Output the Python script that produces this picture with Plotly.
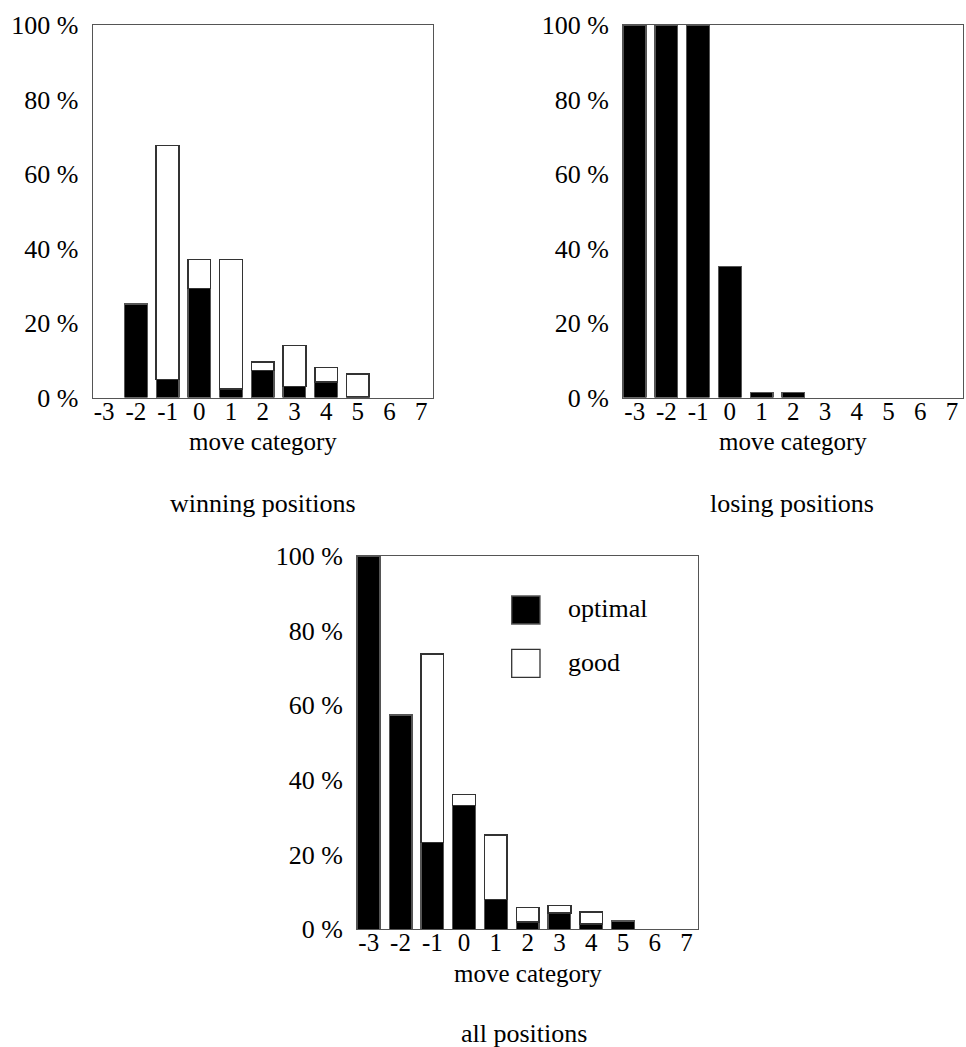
import plotly.graph_objects as go

# ---------------- data ----------------
categories = [-3, -2, -1, 0, 1, 2, 3, 4, 5, 6, 7]
tick_labels = ["-3", "-2", "-1", "0", "1", "2", "3", "4", "5", "6", "7"]
series_names = ["optimal", "good"]
panel_titles = ["winning positions", "losing positions", "all positions"]
x_title = "move category"

winning_optimal = [0, 25.1, 4.8, 29.2, 2.3, 7.3, 3.0, 4.2, 0.2, 0, 0]
winning_good = [0, 0, 62.8, 7.9, 34.8, 2.2, 11.0, 3.8, 6.1, 0, 0]

losing_optimal = [100, 100, 100, 35.2, 1.3, 1.3, 0, 0, 0, 0, 0]
losing_good = [0, 0, 0, 0, 0, 0, 0, 0, 0, 0, 0]

all_optimal = [100, 57.4, 23.3, 33.2, 8.0, 2.0, 4.4, 1.4, 2.2, 0, 0]
all_good = [0, 0, 50.4, 2.9, 17.2, 3.8, 2.0, 3.2, 0, 0, 0]

y_ticks = [0, 20, 40, 60, 80, 100]

# ---------------- style ----------------
FONT = "Liberation Serif"
FS = 26
TFS = 25
FRAME = "#555555"
W, H = 966, 1047

def px_x(p):
    return p / W

def px_y(p):
    return 1 - p / H

def nz(vals):
    # empty categories are drawn as no bar at all
    return [v if v else None for v in vals]

fig = go.Figure()

panels = [
    ("x", "y", winning_optimal, winning_good),
    ("x2", "y2", losing_optimal, losing_good),
    ("x3", "y3", all_optimal, all_good),
]

for xa, ya, opt, good in panels:
    fig.add_trace(go.Bar(
        x=categories, y=nz(opt), name=series_names[0], xaxis=xa, yaxis=ya,
        marker=dict(color="black", line=dict(color="#555555", width=1.3)),
        showlegend=False,
    ))
    fig.add_trace(go.Bar(
        x=categories, y=nz(good), name=series_names[1], xaxis=xa, yaxis=ya,
        marker=dict(color="white", line=dict(color="#333333", width=1.5)),
        showlegend=False,
    ))

domains = {
    "": ([px_x(92.7), px_x(432.7)], [px_y(397.5), px_y(25)]),
    "2": ([px_x(623.3), px_x(963.3)], [px_y(397.5), px_y(25)]),
    "3": ([px_x(357.3), px_x(698)], [px_y(929.3), px_y(556)]),
}
title_y = {"": 441, "2": 441, "3": 973}

layout = dict(
    width=W, height=H,
    margin=dict(l=0, r=0, t=0, b=0, autoexpand=False),
    paper_bgcolor="white", plot_bgcolor="white",
    barmode="stack", bargap=0.285,
    font=dict(family=FONT, size=FS, color="black"),
    showlegend=False,
)

for suf, (xd, yd) in domains.items():
    layout["xaxis" + suf] = dict(
        domain=xd, anchor="y" + suf, range=[-3.36, 7.36],
        tickmode="array", tickvals=categories, ticktext=tick_labels,
        showgrid=False, zeroline=False, showline=True, mirror=True,
        linecolor=FRAME, linewidth=1.2, ticks="", ticklabelstandoff=-9,
        automargin=False, tickfont=dict(size=TFS), fixedrange=True,
    )
    layout["yaxis" + suf] = dict(
        domain=yd, anchor="x" + suf, range=[0, 100],
        tickmode="array", tickvals=y_ticks,
        ticktext=[f"{v} %" for v in y_ticks],
        showgrid=False, zeroline=False, showline=True, mirror=True,
        linecolor=FRAME, linewidth=1.2, ticks="", ticklabelstandoff=8,
        automargin=False, tickfont=dict(size=FS), fixedrange=True,
    )

fig.update_layout(**layout)

# x-axis titles
for suf, (xd, yd) in domains.items():
    fig.add_annotation(text=x_title, x=(xd[0] + xd[1]) / 2, y=px_y(title_y[suf]),
                       xref="paper", yref="paper", xanchor="center", yanchor="middle",
                       showarrow=False, font=dict(size=TFS, family=FONT, color="black"))

# subplot captions
captions = [
    (panel_titles[0], px_x(263), px_y(503)),
    (panel_titles[1], px_x(792), px_y(503)),
    (panel_titles[2], px_x(524), px_y(1033)),
]
for text, x, y in captions:
    fig.add_annotation(text=text, x=x, y=y, xref="paper", yref="paper",
                       xanchor="center", yanchor="middle", showarrow=False,
                       font=dict(size=FS, family=FONT, color="black"))

# legend (drawn inside the bottom panel)
legend_rows = [
    (series_names[0], "black", "#555555", 596, 624, 608),
    (series_names[1], "white", "#333333", 649.3, 677.3, 662),
]
for name, fill, edge, top, bot, ty in legend_rows:
    fig.add_shape(type="rect", xref="paper", yref="paper",
                  x0=px_x(511.7), x1=px_x(540), y0=px_y(bot), y1=px_y(top),
                  fillcolor=fill, line=dict(color=edge, width=1.3))
    fig.add_annotation(text=name, x=px_x(566), y=px_y(ty), xref="paper", yref="paper",
                       xanchor="left", yanchor="middle", showarrow=False,
                       font=dict(size=FS, family=FONT, color="black"))

fig.write_html("out.html")
